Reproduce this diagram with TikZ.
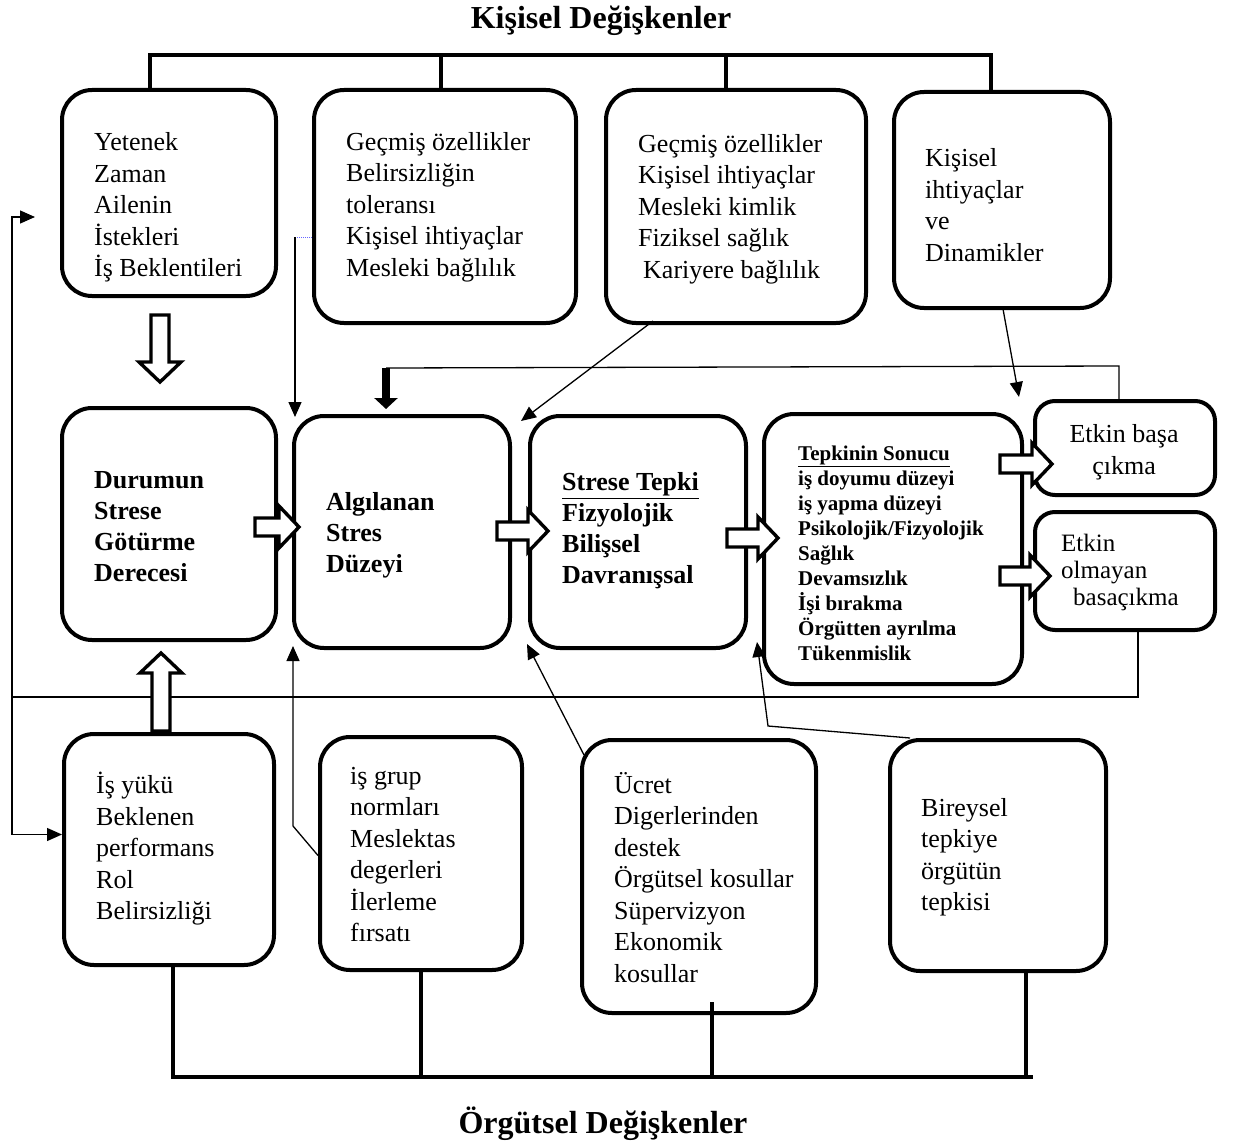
\documentclass[tikz,border=0pt]{standalone}
\usepackage{fontspec}
\setmainfont{Liberation Serif}
\usetikzlibrary{arrows.meta}
\begin{document}
\begin{tikzpicture}[x=1pt,y=-1pt,
  box/.style={draw, line width=4pt, rounded corners=30pt, fill=white, inner sep=0pt},
  smallbox/.style={box, rounded corners=20pt},
  txt/.style={anchor=west, align=left, inner sep=0pt, font=\fontsize{26}{31.5}\selectfont},
  btxt/.style={txt, font=\fontsize{26}{31}\selectfont\bfseries},
  stxt/.style={txt, font=\fontsize{21}{25}\selectfont\bfseries},
  title/.style={font=\fontsize{32}{38}\selectfont\bfseries, inner sep=0pt},
  bracket/.style={line width=3.8pt},
  link/.style={line width=1.3pt},
  linkarrow/.style={link, -{Triangle[width=13pt,length=15pt]}},
  blockline/.style={draw, fill=white, line width=3.4pt, line join=miter},
  pics/blockarrow/.style={code={
    \draw[blockline] (0,-9) -- ({#1-20},-9) -- ({#1-20},-21) -- (#1,0)
      -- ({#1-20},21) -- ({#1-20},9) -- (0,9) -- cycle;}},
]
\fill[white] (0,0) rectangle (1233,1145);
\useasboundingbox (0,0) rectangle (1233,1145);

% titles
\node[title] (toptitle) at (601,21) {Kişisel Değişkenler};
\node[title] (bottomtitle) at (603,1124) {Örgütsel Değişkenler};

% personal variables (top row)
\node[box, minimum width=214, minimum height=206] (t1) at (169,193) {};
\node[box, minimum width=262, minimum height=233] (t2) at (445,206.5) {};
\node[box, minimum width=260, minimum height=233] (t3) at (736,206.5) {};
\node[box, minimum width=216, minimum height=216] (t4) at (1002,200) {};

% stress process (middle row)
\node[box, minimum width=214, minimum height=232] (m1) at (169,524) {};
\node[box, minimum width=216, minimum height=232] (m2) at (402,532) {};
\node[box, minimum width=216, minimum height=232] (m3) at (638,532) {};
\node[box, minimum width=258, minimum height=270] (m4) at (893,549) {};
\node[smallbox, minimum width=180, minimum height=94] (r1) at (1125,448) {};
\node[smallbox, minimum width=180, minimum height=118] (r2) at (1125,571) {};

% organisational variables (bottom row)
\node[box, minimum width=210, minimum height=231] (b1) at (169,849.5) {};
\node[box, minimum width=202, minimum height=233] (b2) at (421,853.5) {};
\node[box, minimum width=234, minimum height=273] (b3) at (699,876.5) {};
\node[box, minimum width=216, minimum height=231] (b4) at (998,855.5) {};

% top bracket
\coordinate (k1) at (150,55);
\coordinate (k2) at (441,55);
\coordinate (k3) at (726,55);
\coordinate (k4) at (991,55);
\draw[bracket] (k1 |- t1.north) -- (k1) -- (k4) -- (k4 |- t4.north);
\draw[bracket] (k2) -- (k2 |- t2.north);
\draw[bracket] (k3) -- (k3 |- t3.north);

% bottom bracket
\coordinate (o1) at (173,1077);
\coordinate (o2) at (421,1077);
\coordinate (o3) at (712,1077);
\coordinate (o4) at (1026,1077);
\coordinate (o5) at (1033,1077);
\coordinate (b3drop) at (712,1002);
\draw[bracket] (o1 |- b1.south) -- (o1) -- (o5);
\draw[bracket] (o2 |- b2.south) -- (o2);
\draw[bracket] (b3drop) -- (o3);
\draw[bracket] (o4 |- b4.south) -- (o4);

% feedback loop around the left side
\coordinate (fbR) at (1138,697);
\coordinate (fbL) at (12,697);
\coordinate (topin) at (35,217);
\draw[link] (fbR |- r2.south) -- (fbR) -- (fbL);
\draw[linkarrow] (fbL) |- (topin);
\draw[linkarrow] (fbL) |- ([yshift=15pt]b1.west);

% feedback from effective coping to perceived stress
\coordinate (fbTR) at (1119,366);
\coordinate (fbT) at (386,368);
\coordinate (fbTend) at (386,409);
\draw[link] (fbTR |- r1.north) -- (fbTR) -- (fbT);
\draw[line width=8pt, -{Triangle[width=23pt,length=11pt]}] (fbT) -- (fbTend);

% thin influence arrows
\coordinate (d1) at (295,237);
\coordinate (m2in) at (295,417);
\draw[line width=1pt, densely dotted, blue!60] (d1) -- (d1 -| t2.west);
\draw[linkarrow] (d1) -- (m2in);

\coordinate (t3out) at (653,321);
\coordinate (m3in) at (521,421);
\draw[linkarrow] (t3out) -- (m3in);

\coordinate (t4out) at (1003,309);
\coordinate (m4in) at (1019,397);
\draw[linkarrow] (t4out) -- (m4in);

\coordinate (b2bend) at (293,826);
\coordinate (m2in2) at (293,646);
\draw[linkarrow] ([yshift=-2pt]b2.west) -- (b2bend) -- (m2in2);

\coordinate (b3out) at (584,755);
\coordinate (m3in2) at (527,644);
\draw[linkarrow] (b3out) -- (m3in2);

\coordinate (b4out) at (910,738);
\coordinate (b4bend) at (768,726);
\coordinate (m4in2) at (757,642);
\draw[linkarrow] (b4out) -- (b4bend) -- (m4in2);

% block arrows
\pic[rotate=-90] at (160,315) {blockarrow=67};
\pic[rotate=90] at (161,731) {blockarrow=78};
\pic at (255,527) {blockarrow=44};
\pic at (497,531) {blockarrow=51};
\pic at (727,538) {blockarrow=51};
\pic at (1000,464) {blockarrow=52};
\pic at (1000,576) {blockarrow=50};

% texts
\node[txt] (t1text) at (94,207.5) {Yetenek\\Zaman\\Ailenin\\İstekleri\\İş Beklentileri};
\node[txt] (t2text) at (346,207) {Geçmiş özellikler\\Belirsizliğin\\toleransı\\Kişisel ihtiyaçlar\\Mesleki bağlılık};
\node[txt] (t3text) at (638,209) {Geçmiş özellikler\\Kişisel ihtiyaçlar\\Mesleki kimlik\\Fiziksel sağlık\\\hspace*{5pt}Kariyere bağlılık};
\node[txt] (t4text) at (925,205) {Kişisel\\ihtiyaçlar\\ve\\Dinamikler};

\node[btxt] (m1text) at (94,526.5) {Durumun\\Strese\\Götürme\\Derecesi};
\node[btxt] (m2text) at (326,535) {Algılanan\\Stres\\Düzeyi};
\node[btxt] (m3text) at (562,531) {\underline{Strese Tepki}\\Fizyolojik\\Bilişsel\\Davranışsal};
\node[stxt] (m4text) at (798,553) {\underline{Tepkinin Sonucu}\\iş doyumu düzeyi\\iş yapma düzeyi\\Psikolojik/Fizyolojik\\Sağlık\\Devamsızlık\\İşi bırakma\\Örgütten ayrılma\\Tükenmislik};
\node[txt, anchor=center, align=center] (r1text) at (1124,452) {Etkin başa\\çıkma};
\node[txt, font=\fontsize{25}{27}\selectfont] (r2text) at (1061,572) {Etkin\\olmayan\\\hspace*{12pt}basaçıkma};

\node[txt] (b1text) at (96,849) {İş yükü\\Beklenen\\performans\\Rol\\Belirsizliği};
\node[txt] (b2text) at (350,854.5) {iş grup\\normları\\Meslektas\\degerleri\\İlerleme\\fırsatı};
\node[txt] (b3text) at (614,877.5) {Ücret\\Digerlerinden\\destek\\Örgütsel kosullar\\Süpervizyon\\Ekonomik\\kosullar};
\node[txt] (b4text) at (921,857) {Bireysel\\tepkiye\\örgütün\\tepkisi};
\end{tikzpicture}
\end{document}
